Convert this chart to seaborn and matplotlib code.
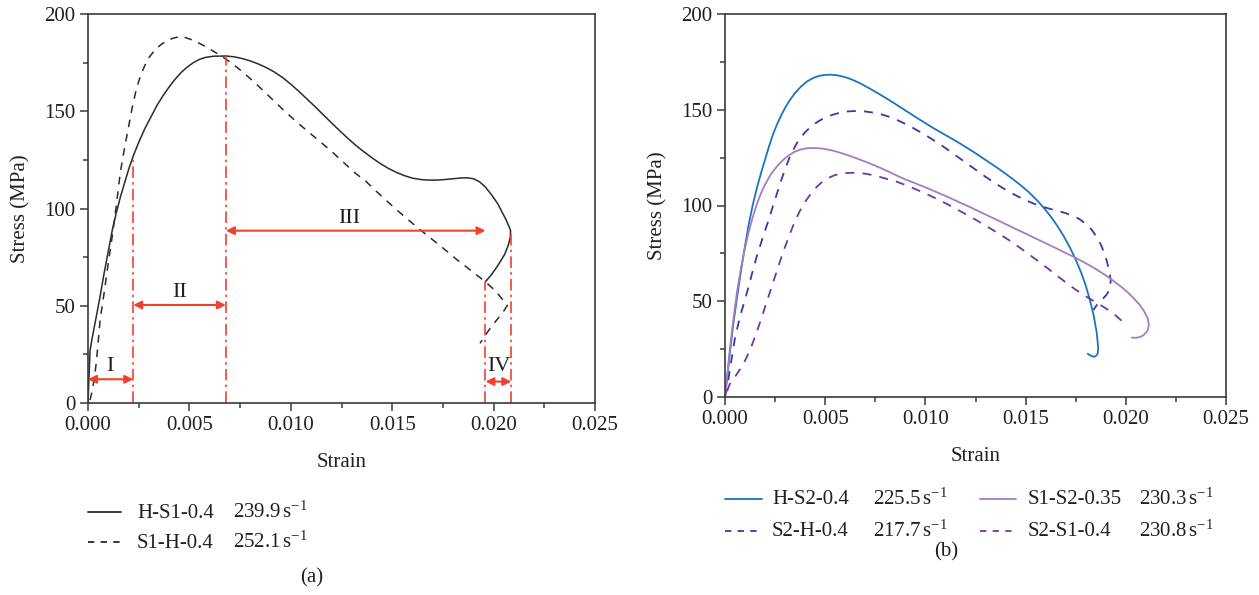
import numpy as np
import pandas as pd
import matplotlib
matplotlib.use("Agg")
import matplotlib.pyplot as plt
import seaborn as sns
from matplotlib.lines import Line2D
from matplotlib.ticker import MultipleLocator, FormatStrFormatter

# ---------------- data ----------------
# Panel (a): H-S1-0.4 (solid)
hs1_strain = [0.0, 0.0001, 0.0002, 0.0004, 0.0006, 0.0008, 0.001, 0.0012, 0.0014, 0.0016,
              0.0018, 0.002, 0.00223, 0.0025, 0.0028, 0.0031, 0.0034, 0.0037, 0.004, 0.0043,
              0.0046, 0.0049, 0.0052, 0.0055, 0.0058, 0.0062, 0.0068, 0.0072, 0.0076, 0.008,
              0.0084, 0.0088, 0.0092, 0.0096, 0.0100, 0.0104, 0.0108, 0.0112, 0.0116, 0.012,
              0.0124, 0.0128, 0.0132, 0.0136, 0.014, 0.0144, 0.0148, 0.0152, 0.0156, 0.016,
              0.0164, 0.0168, 0.0172, 0.0176, 0.018, 0.0184, 0.0187, 0.019, 0.0193, 0.0196,
              0.0199, 0.0202, 0.0204, 0.0206, 0.02075, 0.02084, 0.02082, 0.02072, 0.02055, 0.02035,
              0.02012, 0.01988, 0.0196]
hs1_stress = [0, 27, 33, 44, 55, 67, 78, 89, 98, 106,
              113, 120, 127, 134, 141, 147, 153, 158, 162.5, 166.5,
              170, 172.8, 175, 176.7, 177.7, 178.3, 178.4, 178, 177.1, 175.9,
              174.3, 172.4, 170.1, 167.3, 163.9, 160.2, 156.3, 152.3, 148.2, 144.1,
              140.1, 136.2, 132.5, 129.2, 126.1, 123.2, 120.7, 118.6, 116.9, 115.6,
              114.9, 114.6, 114.6, 114.9, 115.3, 115.7, 115.8, 115.3, 113.8, 111,
              107, 102.5, 98.5, 94.5, 91, 88.5, 85, 81, 76.5, 73,
              69.3, 65.8, 62.4]

# Panel (a): S1-H-0.4 (dashed)
s1h_strain = [0.0001, 0.0002, 0.0003, 0.0004, 0.0005, 0.0006, 0.0008, 0.001, 0.0012, 0.0014,
              0.0016, 0.0018, 0.002, 0.0022, 0.0024, 0.0026, 0.0028, 0.003, 0.0033, 0.0036,
              0.0039, 0.0042, 0.0045, 0.0048, 0.0051, 0.0054, 0.0057, 0.006, 0.0064, 0.0068,
              0.0072, 0.0076, 0.008, 0.0084, 0.0088, 0.0092, 0.0096, 0.01, 0.0104, 0.0108,
              0.0112, 0.0116, 0.012, 0.0124, 0.0128, 0.0132, 0.0137, 0.0142, 0.0147, 0.0152,
              0.0157, 0.0162, 0.0167, 0.0172, 0.0177, 0.0182, 0.0187, 0.0192, 0.0196, 0.02,
              0.0203, 0.02055, 0.02068, 0.02045, 0.0201, 0.0197, 0.01933]
s1h_stress = [1.5, 6, 12, 20, 31, 43, 57, 72, 86, 102,
              119, 131, 142, 153, 162, 168.5, 173.5, 177.5, 181.5, 184.3,
              186.3, 187.6, 188.3, 187.9, 186.8, 185.4, 183.8, 182, 179.5, 176.8,
              173.8, 170.4, 166.8, 163, 159, 155, 151, 147.2, 143.5, 140,
              136.5, 133, 129.5, 125.6, 121.8, 118, 114, 109, 104.2, 99.5,
              95, 90.6, 86.4, 82.2, 78, 73.6, 69.6, 65.5, 62.3, 58.5,
              55, 51.8, 50.2, 46.5, 42, 36.5, 30.7]

# Stage boundaries (strain) and where each boundary line stops (stress)
stage_strain = [0.0, 0.00223, 0.0068, 0.0196, 0.02087]
stage_top = [0, 127, 178.4, 62.4, 89]
stage_names = ["I", "II", "III", "IV"]
stage_arrow_y = [12.2, 50.4, 88.6, 11.0]
stage_label_x = [0.0011, 0.0045, 0.0129, 0.02025]
stage_label_y = [19, 57, 95, 19]

# Panel (b): H-S2-0.4 (solid blue)
hs2_strain = [0.0, 0.0001, 0.0002, 0.0004, 0.0006, 0.0008, 0.001, 0.0012, 0.0014, 0.0016,
              0.0018, 0.002, 0.0022, 0.0024, 0.0026, 0.0028, 0.003, 0.0032, 0.0035, 0.0038,
              0.0041, 0.0044, 0.0047, 0.005, 0.0053, 0.0056, 0.0059, 0.0062, 0.0065, 0.0068,
              0.0072, 0.0076, 0.008, 0.0084, 0.0088, 0.0092, 0.0096, 0.01, 0.0104, 0.0108,
              0.0112, 0.0116, 0.012, 0.0124, 0.0128, 0.0132, 0.0136, 0.014, 0.0144, 0.0148,
              0.0152, 0.0156, 0.016, 0.0163, 0.0166, 0.0169, 0.0172, 0.0175, 0.0178, 0.018,
              0.0182, 0.0184, 0.01855, 0.01862, 0.0186, 0.0185, 0.0184, 0.01825, 0.0181]
hs2_stress = [0, 9, 19, 37, 52, 66, 79, 91, 101, 109.5,
              117, 124, 131, 137.3, 142.5, 147, 151, 154.5, 158.8, 162.2,
              164.8, 166.6, 167.7, 168.2, 168.3, 168, 167.3, 166.3, 165, 163.5,
              161.2, 158.8, 156.3, 153.7, 151, 148.3, 145.6, 143, 140.4, 138,
              135.6, 133.2, 130.6, 128, 125.2, 122.4, 119.6, 116.6, 113.5, 110.2,
              106.6, 102.4, 97.6, 93.6, 89.1, 84, 78.3, 71.8, 64.2, 58.2,
              51, 42.5, 33.5, 26, 22.7, 21.3, 21, 21.6, 22.6]

# Panel (b): S2-H-0.4 (dashed blue-violet)
s2h_strain = [0.0, 0.00015, 0.0003, 0.0005, 0.00075, 0.001, 0.0012, 0.0014, 0.0016, 0.0018,
              0.002, 0.0022, 0.0024, 0.0026, 0.0028, 0.003, 0.0032, 0.0034, 0.0036, 0.0038,
              0.004, 0.0043, 0.0046, 0.0049, 0.0052, 0.0055, 0.0058, 0.0061, 0.0064, 0.0067,
              0.007, 0.0074, 0.0078, 0.0082, 0.0086, 0.009, 0.0094, 0.0098, 0.0102, 0.0106,
              0.011, 0.0114, 0.0118, 0.0122, 0.0126, 0.013, 0.0134, 0.0138, 0.0142, 0.0146,
              0.015, 0.0154, 0.0158, 0.0162, 0.0166, 0.017, 0.0174, 0.0177, 0.018, 0.0183,
              0.0186, 0.0188, 0.019, 0.01915, 0.01925, 0.0192, 0.01905, 0.0188, 0.01855, 0.01838]
s2h_stress = [0, 8, 18, 31, 42, 51, 58.5, 66.5, 74, 80.5,
              87, 93, 100, 106.5, 113, 119, 124.5, 129, 132.8, 135.8,
              138.3, 141.3, 143.6, 145.4, 146.8, 147.8, 148.6, 149.1, 149.3, 149.3,
              149.1, 148.5, 147.6, 146.3, 144.6, 142.6, 140.4, 138, 135.5, 132.8,
              130, 127, 124, 121, 118, 115, 112.2, 109.5, 107, 104.8,
              102.8, 101, 99.5, 98.3, 97.2, 96, 94.5, 92.8, 90.5, 87.3,
              82.8, 78.5, 73, 67, 61, 56.5, 53.5, 50.7, 48, 45.4]

# Panel (b): S1-S2-0.35 (solid light purple)
s1s2_strain = [0.0, 0.0001, 0.0002, 0.0004, 0.0006, 0.0008, 0.001, 0.0012, 0.0014, 0.0016,
               0.0018, 0.002, 0.0023, 0.0026, 0.0029, 0.0032, 0.0035, 0.0038, 0.0041, 0.0044,
               0.0047, 0.005, 0.0054, 0.0058, 0.0062, 0.0066, 0.007, 0.0074, 0.0078, 0.0082,
               0.0086, 0.009, 0.0094, 0.0098, 0.0102, 0.0106, 0.011, 0.0114, 0.0118, 0.0122,
               0.0126, 0.013, 0.0134, 0.0138, 0.0142, 0.0146, 0.015, 0.0154, 0.0158, 0.0162,
               0.0166, 0.017, 0.0174, 0.0178, 0.0182, 0.0186, 0.019, 0.0194, 0.0198, 0.0201,
               0.0204, 0.0207, 0.0209, 0.0211, 0.02115, 0.02108, 0.0209, 0.0207, 0.0205, 0.0203]
s1s2_stress = [0, 10, 21, 39, 55, 67.5, 78, 87, 94.5, 101,
               106.5, 111, 116.5, 120.5, 123.8, 126.3, 128.2, 129.3, 129.9, 130,
               129.9, 129.5, 128.6, 127.4, 126, 124.5, 122.9, 121.2, 119.4, 117.5,
               115.5, 113.6, 112, 110.3, 108.6, 106.8, 105, 103.1, 101.2, 99.3,
               97.3, 95.3, 93.3, 91.3, 89.3, 87.3, 85.3, 83.3, 81.3, 79.3,
               77.3, 75.2, 73.2, 71, 68.7, 66.2, 63.5, 60.5, 57.3, 54.6,
               51.5, 48, 45, 41, 37.5, 34.5, 32.4, 31.3, 30.9, 31]

# Panel (b): S2-S1-0.4 (dashed purple)
s2s1_strain = [0.0001, 0.00025, 0.0005, 0.00075, 0.001, 0.00125, 0.0015, 0.00175, 0.002, 0.00225,
               0.0025, 0.00275, 0.003, 0.00325, 0.0035, 0.00375, 0.004, 0.0043, 0.0046, 0.0049,
               0.0052, 0.0055, 0.0058, 0.0061, 0.0064, 0.0067, 0.007, 0.0074, 0.0078, 0.0082,
               0.0086, 0.009, 0.0094, 0.0098, 0.0102, 0.0106, 0.011, 0.0114, 0.0118, 0.0122,
               0.0126, 0.013, 0.0134, 0.0138, 0.0142, 0.0146, 0.015, 0.0154, 0.0158, 0.0162,
               0.0166, 0.017, 0.0174, 0.0178, 0.0182, 0.0186, 0.019, 0.0194, 0.01985]
s2s1_stress = [3, 7, 10.5, 14.5, 19, 24.5, 31.5, 39, 47, 55,
               63, 71, 78.5, 85.5, 92, 97.5, 102, 106.3, 110, 112.7,
               114.6, 115.9, 116.6, 117, 117.1, 117, 116.6, 115.8, 114.7, 113.5,
               112.3, 110.7, 109, 107.2, 105.3, 103.3, 101.2, 99, 96.7, 94.4,
               92, 89.5, 87, 84.4, 81.7, 78.8, 75.8, 72.7, 69.6, 66.4,
               63.1, 59.9, 56.8, 53.9, 51.3, 48.9, 46.3, 43.4, 39.3]

legend_a_names = ["H-S1-0.4", "S1-H-0.4"]
legend_a_rates = ["239.9", "252.1"]
legend_b_names = ["H-S2-0.4", "S2-H-0.4", "S1-S2-0.35", "S2-S1-0.4"]
legend_b_rates = ["225.5", "217.7", "230.3", "230.8"]

# ---------------- style ----------------
sns.set_style("ticks")
plt.rcParams["font.family"] = ["Liberation Serif", "DejaVu Serif"]
plt.rcParams["mathtext.fontset"] = "custom"
plt.rcParams["mathtext.rm"] = "Liberation Serif"
plt.rcParams["mathtext.it"] = "Liberation Serif:italic"
FS = 15
TXT = "#231f20"
RED = "#ef4130"
BLUE = "#1b75bc"
LPURP = "#a57cc0"
S2H_C = "#3f36a6"
S2S1_C = "#6a3aa4"
BLACK = "#2b2b2b"
DASH = (0, (5, 4.5))
DASHDOT = (0, (7, 2.5, 1.5, 2.5))

W, H = 1259, 595
fig = plt.figure(figsize=(W / 100, H / 100), dpi=100)
fig.patch.set_facecolor("white")


def px_axes(x0, x1, ytop, ybot):
    return fig.add_axes([x0 / W, 1 - ybot / H, (x1 - x0) / W, (ybot - ytop) / H])


axA = px_axes(88, 595, 14, 403)
axB = px_axes(725, 1226, 14, 397)


def style_axes(ax):
    ax.set_xlim(0, 0.025)
    ax.set_ylim(0, 200)
    ax.xaxis.set_major_locator(MultipleLocator(0.005))
    ax.xaxis.set_minor_locator(MultipleLocator(0.0025))
    ax.yaxis.set_major_locator(MultipleLocator(50))
    ax.yaxis.set_minor_locator(MultipleLocator(25))
    ax.xaxis.set_major_formatter(FormatStrFormatter("%.3f"))
    ax.yaxis.set_major_formatter(FormatStrFormatter("%d"))
    for s in ax.spines.values():
        s.set_visible(True)
        s.set_color("#3a3a3a")
        s.set_linewidth(1.2)
    ax.tick_params(which="both", direction="out", top=False, right=False,
                   color="#3a3a3a", width=1.1, labelsize=FS, labelcolor=TXT)
    ax.tick_params(which="major", length=6, pad=3)
    ax.tick_params(which="minor", length=3.5)
    ax.set_xlabel("Strain", fontsize=FS, color=TXT, labelpad=13)
    ax.set_ylabel("Stress (MPa)", fontsize=FS, color=TXT, labelpad=10)
    ax.set_facecolor("white")


def draw(ax, xs, ys, color, ls, lw=1.2):
    df = pd.DataFrame({"strain": xs, "stress": ys})
    sns.lineplot(data=df, x="strain", y="stress", ax=ax, sort=False, estimator=None,
                 color=color, linestyle=ls, linewidth=lw)


# ---------------- panel (a) ----------------
draw(axA, hs1_strain, hs1_stress, BLACK, "-", 1.1)
draw(axA, s1h_strain, s1h_stress, BLACK, DASH, 1.1)

for sx, top in zip(stage_strain[1:], stage_top[1:]):
    axA.plot([sx, sx], [0, top], color=RED, linestyle=DASHDOT, linewidth=1.2)

for i, name in enumerate(stage_names):
    axA.annotate("", xy=(stage_strain[i + 1], stage_arrow_y[i]),
                 xytext=(stage_strain[i], stage_arrow_y[i]),
                 arrowprops=dict(arrowstyle="<|-|>", color=RED, lw=1.5,
                                 mutation_scale=12, shrinkA=0, shrinkB=0))
    axA.text(stage_label_x[i], stage_label_y[i], name, fontsize=FS + 1, color=TXT,
             ha="center", va="center")

style_axes(axA)

# ---------------- panel (b) ----------------
draw(axB, hs2_strain, hs2_stress, BLUE, "-", 1.3)
draw(axB, s2h_strain, s2h_stress, S2H_C, DASH, 1.3)
draw(axB, s1s2_strain, s1s2_stress, LPURP, "-", 1.3)
draw(axB, s2s1_strain, s2s1_stress, S2S1_C, DASH, 1.3)
style_axes(axB)


# ---------------- legends (drawn in figure pixels) ----------------
def fx(p):
    return p / W


def fy(p):
    return 1 - p / H


def legend_row(x0, x1, yline, color, ls, name, xname, rate, xrate):
    fig.add_artist(Line2D([fx(x0), fx(x1)], [fy(yline), fy(yline)], color=color,
                          linestyle=ls, linewidth=1.3, transform=fig.transFigure))
    fig.text(fx(xname), fy(yline + 5.5), name, fontsize=FS, color=TXT, ha="left", va="baseline")
    fig.text(fx(xrate), fy(yline + 5.5), rate + r"$\,$s$^{-1}$", fontsize=FS, color=TXT,
             ha="left", va="baseline")


legend_row(88, 121, 512, BLACK, "-", legend_a_names[0], 137, legend_a_rates[0], 233)
legend_row(88, 121, 542, BLACK, (0, (3.5, 3.5)), legend_a_names[1], 137, legend_a_rates[1], 233)
fig.text(fx(312), fy(578), "(a)", fontsize=FS, color=TXT, ha="center", va="center")

legend_row(725, 762, 499, BLUE, "-", legend_b_names[0], 772, legend_b_rates[0], 873)
legend_row(725, 762, 531, S2H_C, (0, (3.5, 3.5)), legend_b_names[1], 772, legend_b_rates[1], 873)
legend_row(980, 1016, 499, LPURP, "-", legend_b_names[2], 1028, legend_b_rates[2], 1139)
legend_row(980, 1016, 531, S2S1_C, (0, (3.5, 3.5)), legend_b_names[3], 1028, legend_b_rates[3], 1139)
fig.text(fx(946), fy(552), "(b)", fontsize=FS, color=TXT, ha="center", va="center")

fig.savefig("out.png", dpi=100, facecolor="white")
